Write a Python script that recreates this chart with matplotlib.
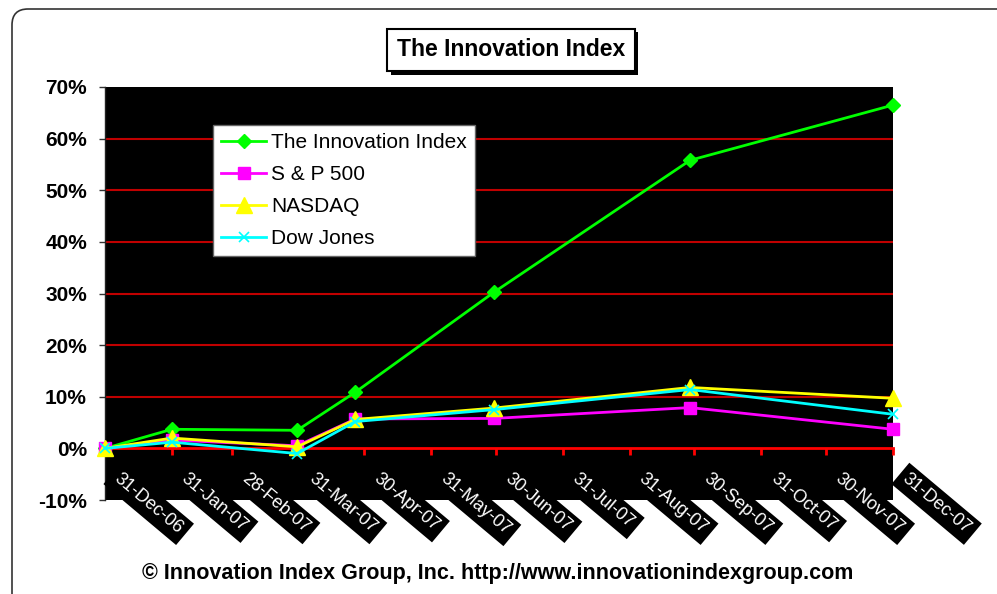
import matplotlib
matplotlib.use('Agg')
import matplotlib.pyplot as plt
import matplotlib.dates as mdates
import matplotlib.patheffects as pe
from matplotlib.transforms import offset_copy, IdentityTransform
from matplotlib.patches import FancyBboxPatch
import pandas as pd

plt.rcParams['font.family'] = ['Liberation Sans', 'DejaVu Sans']

# ---- data ----
dates = ['2006-12-31', '2007-01-31', '2007-03-30', '2007-04-26',
         '2007-06-29', '2007-09-28', '2007-12-31']
innovation = [0.0, 3.7, 3.5, 10.9, 30.2, 55.8, 66.5]
sp500 = [0.0, 1.6, 0.5, 5.7, 5.8, 7.9, 3.7]
nasdaq = [0.0, 2.0, 0.3, 5.6, 7.8, 11.8, 9.7]
dow = [0.0, 1.2, -1.0, 5.2, 7.5, 11.4, 6.6]
series_names = ['The Innovation Index', 'S & P 500', 'NASDAQ', 'Dow Jones']
tick_labels = ['31-Dec-06', '31-Jan-07', '28-Feb-07', '31-Mar-07', '30-Apr-07',
               '31-May-07', '30-Jun-07', '31-Jul-07', '31-Aug-07', '30-Sep-07',
               '31-Oct-07', '30-Nov-07', '31-Dec-07']
y_ticks = [-10, 0, 10, 20, 30, 40, 50, 60, 70]
title = 'The Innovation Index'
footer = '\u00a9 Innovation Index Group, Inc. http://www.innovationindexgroup.com'

W, H = 997, 594
fig = plt.figure(figsize=(W / 100, H / 100), dpi=100)
fig.patch.set_facecolor('white')

ax = fig.add_axes([105 / W, 1 - 500 / H, (893 - 105) / W, (500 - 87) / H])
ax.set_facecolor('black')

x = pd.to_datetime(dates)
styles = [
    ('#00ff00', 'D', 7.5, 1.0),
    ('#ff00ff', 's', 9, 1.0),
    ('#ffff00', '^', 11, 1.0),
    ('#00ffff', 'x', 7, 1.2),
]
for vals, name, (col, mk, ms, mew) in zip([innovation, sp500, nasdaq, dow], series_names, styles):
    ax.plot(x, vals, color=col, lw=2, marker=mk, ms=ms, mfc=col, mec=col, mew=mew,
            label=name, clip_on=False, zorder=3)

ax.set_xlim(pd.Timestamp('2006-12-31'), pd.Timestamp('2007-12-31'))
ax.set_ylim(y_ticks[0], y_ticks[-1])

# gridlines (inner only)
for v in y_ticks[2:-1]:
    ax.axhline(v, color='#c00000', lw=1.5, zorder=1)

# x axis at zero, red
tick_dates = pd.to_datetime(tick_labels, format='%d-%b-%y')
ax.set_xticks(tick_dates)
ax.spines['bottom'].set_position(('data', 0))
ax.spines['bottom'].set_color('red')
ax.spines['bottom'].set_linewidth(2)
ax.spines['bottom'].set_zorder(2)
ax.tick_params(axis='x', direction='out', length=5, width=2, color='red', labelbottom=False)
ax.spines['top'].set_visible(False)
ax.spines['right'].set_visible(False)
ax.spines['left'].set_color('#222222')
ax.spines['left'].set_linewidth(1)

ax.set_yticks(y_ticks)
ax.set_yticklabels([f'{v}%' for v in y_ticks], fontsize=15, fontweight='bold')
ax.tick_params(axis='y', direction='out', length=4, width=1, color='#333333', pad=9)

for d, lab in zip(tick_dates, tick_labels):
    ax.text(mdates.date2num(d), 0, lab,
            transform=offset_copy(ax.transData, fig=fig, x=17, y=-22, units='dots'),
            rotation=-40, rotation_mode='anchor', ha='left', va='top',
            color='white', fontsize=13,
            bbox=dict(boxstyle='square,pad=0.3', fc='black', ec='none'),
            clip_on=False, zorder=5)

leg = ax.legend(loc='upper left', bbox_to_anchor=(213 / W, 1 - 125 / H),
                bbox_transform=fig.transFigure, fontsize=15, frameon=True,
                fancybox=False, edgecolor='#666666', framealpha=1,
                borderaxespad=0, handlelength=2.15, handletextpad=0.25,
                labelspacing=0.62, borderpad=0.4)
leg.get_frame().set_linewidth(1)
leg.set_zorder(6)

# title in a box with a drop shadow
t = fig.text(511 / W, 1 - 50 / H, title, ha='center', va='center',
             fontsize=16.5, fontweight='bold', color='black',
             bbox=dict(boxstyle='square,pad=0.42', fc='white', ec='black', lw=1.5), zorder=3)
t.get_bbox_patch().set_path_effects([
    pe.SimplePatchShadow(offset=(2.5, -2.5), shadow_rgbFace='black', alpha=1.0),
    pe.Normal()])

fig.text(498 / W, 1 - 573 / H, footer, ha='center', va='center',
         fontsize=15.5, fontweight='bold', color='black')

border = FancyBboxPatch((12, -40), 1030, 594 - 9 + 40, boxstyle='round,pad=0,rounding_size=16',
                        fill=False, ec='#333333', lw=1.2, transform=IdentityTransform())
fig.add_artist(border)

fig.savefig('out.png', dpi=100)
